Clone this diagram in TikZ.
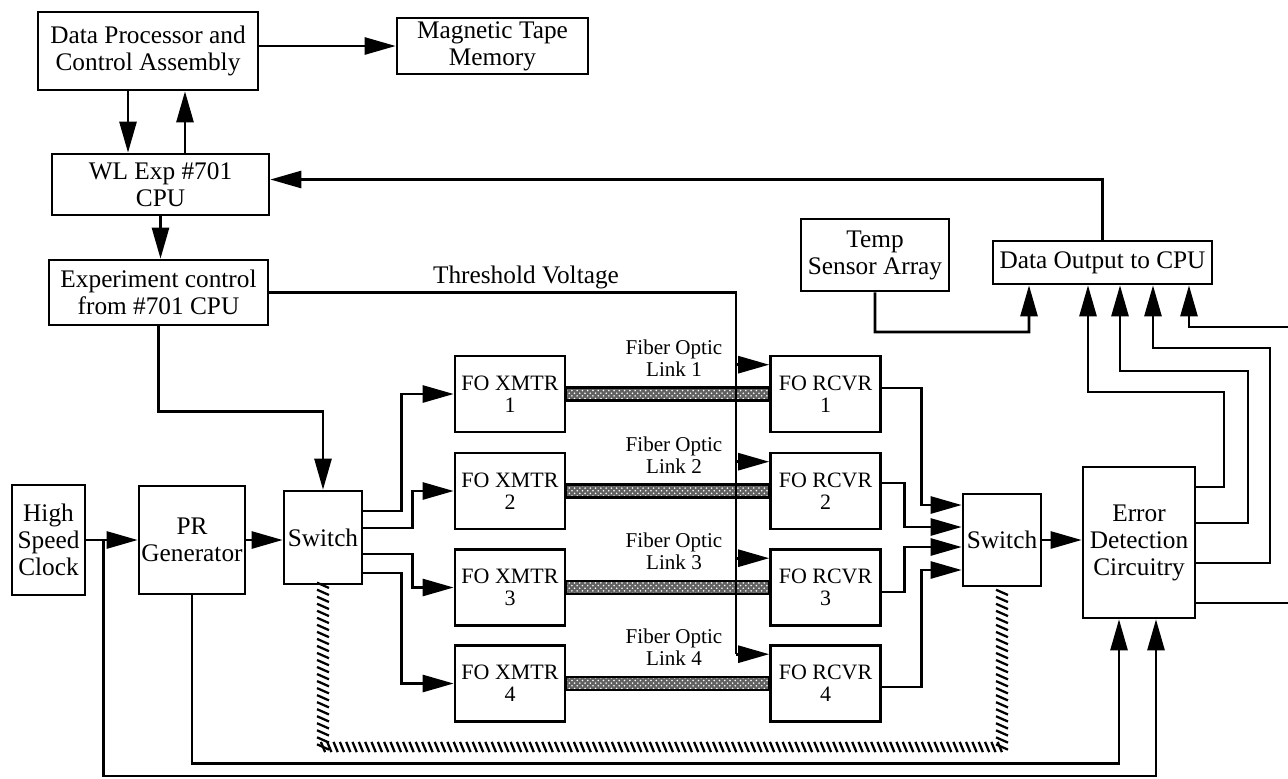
\documentclass[tikz,border=0pt]{standalone}
\usepackage{fontspec}
\setmainfont{Liberation Serif}
\usepackage{tikz}
\usetikzlibrary{arrows.meta}
\usetikzlibrary{calc}
\usetikzlibrary{patterns}
\usetikzlibrary{decorations.markings}

\begin{document}
\begin{tikzpicture}[x=0.02cm,y=-0.02cm,line width=1.5pt,
    >={Triangle[length=0.62cm,width=0.34cm]},
    font=\fontsize{14.4}{15.4}\selectfont,
    blocco/.style={draw,align=center,inner sep=0pt},
    bloccofo/.style={blocco,minimum width=2.2cm,minimum height=1.52cm,
                     font=\fontsize{12.5}{12.5}\selectfont},
    etichettafo/.style={align=center,inner sep=0pt,font=\fontsize{12}{12.5}\selectfont},
    fibra/.style={draw,line width=1.2pt,preaction={fill=black!62},
                  pattern=crosshatch dots,pattern color=white},
    tratth/.style={decorate,decoration={markings,
        mark=between positions 0 and 1 step 3.6pt with
        {\pgftransformresetnontranslations\draw[line width=1.3pt] (-1.2pt,2.9pt) -- (1.2pt,-2.9pt);}}},
    trattv/.style={decorate,decoration={markings,
        mark=between positions 0 and 1 step 4pt with
        {\pgftransformresetnontranslations\draw[line width=1.3pt] (-3.4pt,1.5pt) -- (3.4pt,-1.5pt);}}}]

    \useasboundingbox (0,0) rectangle (1288,778);

        % Blocchi superiori
    \node[blocco,minimum width=4.4cm,minimum height=1.56cm] (dpca) at (148,51) {Data Processor and\\Control Assembly};
    \node[blocco,minimum width=3.82cm,minimum height=1.12cm] (mtm) at (492.5,46) {Magnetic Tape\\Memory};
    \node[blocco,minimum width=4.34cm,minimum height=1.22cm] (wl) at (160.5,184.5) {WL Exp \#701\\CPU};
    \node[blocco,minimum width=4.38cm,minimum height=1.3cm] (exp) at (158.5,292.5) {Experiment control\\from \#701 CPU};
    \node[blocco,minimum width=2.96cm,minimum height=1.44cm] (temp) at (875,255) {Temp\\Sensor Array};
    \node[blocco,minimum width=4.38cm,minimum height=0.86cm] (dout) at (1102.5,262.5) {Data Output to CPU};

        % Catena di misura
    \node[blocco,minimum width=1.46cm,minimum height=2.2cm] (clock) at (48.5,540) {High\\Speed\\Clock};
    \node[blocco,minimum width=2.12cm,minimum height=2.16cm] (prg) at (192,540) {PR\\Generator};
    \node[blocco,minimum width=1.56cm,minimum height=1.86cm] (sw1) at (323,537.5) {Switch};
    \node[blocco,minimum width=1.56cm,minimum height=1.84cm] (sw2) at (1002,540) {Switch};
    \node[blocco,minimum width=2.24cm,minimum height=3.02cm] (ed) at (1139,542.5) {Error\\Detection\\Circuitry};

        % Trasmettitori e ricevitori
    \node[bloccofo] (xmtr1) at (510,394) {FO XMTR\\1};
    \node[bloccofo] (xmtr2) at (510,491) {FO XMTR\\2};
    \node[bloccofo] (xmtr3) at (510,587.5) {FO XMTR\\3};
    \node[bloccofo] (xmtr4) at (510,683.5) {FO XMTR\\4};
    \node[bloccofo] (rcvr1) at (825.5,394) {FO RCVR\\1};
    \node[bloccofo] (rcvr2) at (825.5,491) {FO RCVR\\2};
    \node[bloccofo] (rcvr3) at (825.5,587.5) {FO RCVR\\3};
    \node[bloccofo] (rcvr4) at (825.5,683.5) {FO RCVR\\4};

        % Fibre ottiche
    \draw[fibra] ([yshift=0.13cm]xmtr1.east) rectangle ([yshift=-0.13cm]rcvr1.west);
    \draw[fibra] ([yshift=0.13cm]xmtr2.east) rectangle ([yshift=-0.13cm]rcvr2.west);
    \draw[fibra] ([yshift=0.13cm]xmtr3.east) rectangle ([yshift=-0.13cm]rcvr3.west);
    \draw[fibra] ([yshift=0.13cm]xmtr4.east) rectangle ([yshift=-0.13cm]rcvr4.west);
    \node[etichettafo] (link1) at (674,358) {Fiber Optic\\Link 1};
    \node[etichettafo] (link2) at (674,455) {Fiber Optic\\Link 2};
    \node[etichettafo] (link3) at (674,551.5) {Fiber Optic\\Link 3};
    \node[etichettafo] (link4) at (674,647.5) {Fiber Optic\\Link 4};

        % Collegamenti in alto
    \coordinate (giu) at ([xshift=-0.4cm]dpca.south);
    \coordinate (su) at ([xshift=0.74cm]dpca.south);
    \draw[->] (dpca.east |- mtm.west) -- (mtm.west);
    \draw[->] (giu) -- (giu |- wl.north);
    \draw[->] (su |- wl.north) -- (su);
    \draw[->] (wl.south) -- (wl.south |- exp.north);
    \draw[->] (dout.north) |- ([yshift=0.1cm]wl.east);

        % Tensione di soglia
    \pgfmathsetmacro{\xSoglia}{736}
    \coordinate (soglia) at (\xSoglia,0);
    \coordinate (in1) at ([yshift=-0.2cm]rcvr1.north west);
    \coordinate (in2) at ([yshift=-0.2cm]rcvr2.north west);
    \coordinate (in3) at ([yshift=-0.2cm]rcvr3.north west);
    \coordinate (in4) at ([yshift=-0.2cm]rcvr4.north west);
    \draw (exp.east) -| (in4 -| soglia);
    \draw[->] (in1 -| soglia) -- (in1);
    \draw[->] (in2 -| soglia) -- (in2);
    \draw[->] (in3 -| soglia) -- (in3);
    \draw[->] (in4 -| soglia) -- (in4);
    \node (tvlab) at (526,277) {Threshold Voltage};

        % Comando del primo switch
    \draw[->] (exp.south) -- ++(0,85) -| (sw1.north);
    \draw[->] (clock.east) -- (prg.west);
    \draw[->] (prg.east) -- (prg.east -| sw1.west);
    \draw[->] ([yshift=0.53cm]sw1.east) -| ([xshift=-1.04cm]xmtr1.west) -- (xmtr1.west);
    \draw[->] ([yshift=0.19cm]sw1.east) -| ([xshift=-0.82cm]xmtr2.west) -- (xmtr2.west);
    \draw[->] ([yshift=-0.33cm]sw1.east) -| ([xshift=-0.82cm]xmtr3.west) -- (xmtr3.west);
    \draw[->] ([yshift=-0.71cm]sw1.east) -| ([xshift=-1.04cm]xmtr4.west) -- (xmtr4.west);

        % Ricevitori verso il secondo switch
    \draw[->] ([yshift=0.12cm]rcvr1.east) -| ([xshift=-0.8cm,yshift=0.7cm]sw2.west) -- ([yshift=0.7cm]sw2.west);
    \draw[->] ([yshift=0.16cm]rcvr2.east) -| ([xshift=-1.14cm,yshift=0.26cm]sw2.west) -- ([yshift=0.26cm]sw2.west);
    \draw[->] ([yshift=-0.09cm]rcvr3.east) -| ([xshift=-1.14cm,yshift=-0.14cm]sw2.west) -- ([yshift=-0.14cm]sw2.west);
    \draw[->] ([yshift=-0.07cm]rcvr4.east) -| ([xshift=-0.8cm,yshift=-0.6cm]sw2.west) -- ([yshift=-0.6cm]sw2.west);
    \draw[->] (sw2.east) -- (sw2.east -| ed.west);

        % Sincronismo dei due switch
    \coordinate (fondo) at (0,747);
    \coordinate (hl) at (sw1.south |- fondo);
    \coordinate (hr) at (sw2.south |- fondo);
    \path[trattv] (sw1.south) -- (hl);
    \path[tratth] (hl) -- (hr);
    \path[trattv] (hr) -- (sw2.south);

        % Riferimenti per il rivelatore d'errore
    \coordinate (clk) at ($(clock.east)!0.33!(prg.west)$);
    \draw[->] (prg.south) -- ++(0,168) -| ([xshift=-0.4cm]ed.south);
    \draw[->] (clk) -- ++(0,236) -| ([xshift=0.34cm]ed.south);

        % Uscite dati
    \draw[->] (temp.south) |- (1029,332) -- ([xshift=-1.47cm]dout.south);
    \draw[->] ([yshift=1.11cm]ed.east) -| (1224,392) -| ([xshift=-0.29cm]dout.south);
    \draw[->] ([yshift=0.39cm]ed.east) -| (1248,371) -| ([xshift=0.35cm]dout.south);
    \draw[->] ([yshift=-0.41cm]ed.east) -| (1270,348) -| ([xshift=1.01cm]dout.south);
    \draw[->] ([yshift=-1.21cm]ed.east) -| (1300,327) -| ([xshift=1.73cm]dout.south);

\end{tikzpicture}
\end{document}
